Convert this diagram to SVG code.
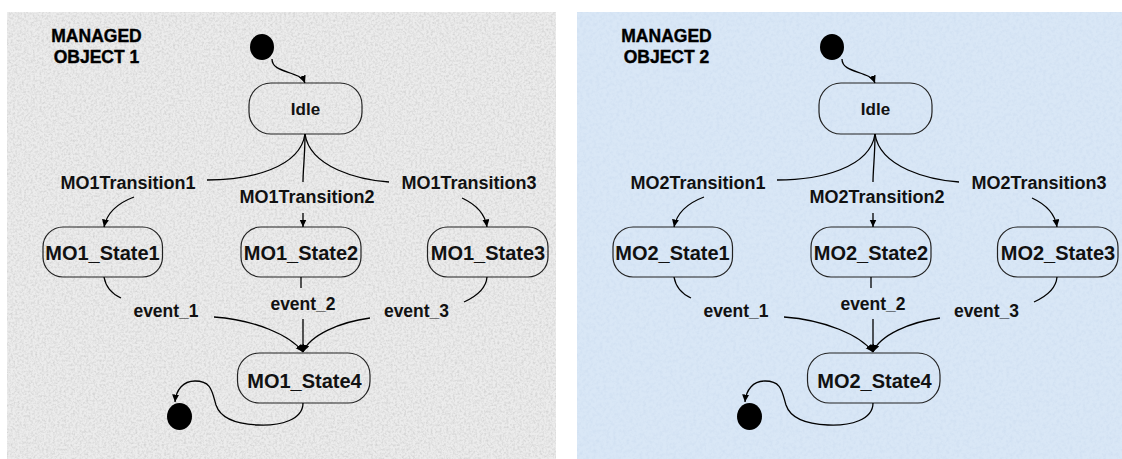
<svg xmlns="http://www.w3.org/2000/svg" width="1122" height="459" viewBox="0 0 1122 459">
<style>
.box{fill:none;stroke:#222;stroke-width:1.2}
.dot{fill:#000}
.ttl{font-family:"Liberation Sans",Arial,sans-serif;font-weight:bold;font-size:17.5px;fill:#000;text-anchor:middle;stroke:#000;stroke-width:0.4}
.st{font-family:"Liberation Sans",Arial,sans-serif;font-weight:bold;font-size:20px;fill:#111;text-anchor:middle}
.idle{font-family:"Liberation Sans",Arial,sans-serif;font-weight:bold;font-size:17px;fill:#111;text-anchor:middle}
.lbl{font-family:"Liberation Sans",Arial,sans-serif;font-weight:bold;font-size:18px;fill:#111;text-anchor:middle}
.ev{font-family:"Liberation Sans",Arial,sans-serif;font-weight:bold;font-size:17.5px;fill:#111;text-anchor:middle}
.c{fill:none;stroke:#000;stroke-width:1.3}
.a{marker-end:url(#ah)}
</style>
<defs>
<marker id="ah" markerUnits="userSpaceOnUse" markerWidth="8" markerHeight="8" refX="7.5" refY="3.5" orient="auto">
<path d="M0,0 L7.5,3.5 L0,7 z" fill="#000"/>
</marker>
<filter id="grainGray" x="0" y="0" width="100%" height="100%">
<feTurbulence type="fractalNoise" baseFrequency="0.45" numOctaves="3" seed="4" result="n"/>
<feColorMatrix in="n" type="matrix" values="0 0 0 0 0.45  0 0 0 0 0.45  0 0 0 0 0.45  1.6 0 0 0 -0.62"/>
</filter>
<filter id="grainBlue" x="0" y="0" width="100%" height="100%">
<feTurbulence type="fractalNoise" baseFrequency="0.3" numOctaves="3" seed="9" result="n"/>
<feColorMatrix in="n" type="matrix" values="0 0 0 0 0.5  0 0 0 0 0.62  0 0 0 0 0.8  1.5 0 0 0 -0.6"/>
</filter>
</defs>
<rect x="0" y="0" width="1122" height="459" fill="#fff"/>

<!-- Panel 1 -->
<g id="panel1">
<rect x="7" y="12" width="549" height="447" fill="#ececec"/>
<rect x="7" y="12" width="549" height="447" fill="#000" filter="url(#grainGray)" opacity="0.55"/>
<g id="mo1-title">
<text class="ttl" x="96.5" y="42">MANAGED</text>
<text class="ttl" x="96.5" y="63">OBJECT 1</text>
</g>
<g id="mo1-initial"><ellipse class="dot" cx="262" cy="47" rx="12" ry="13"/></g>
<g id="mo1-idle"><rect class="box" x="249" y="83" width="113" height="51" rx="22" ry="22"/><text class="idle" x="305.5" y="115">Idle</text></g>
<g id="mo1-state1"><rect class="box" x="43" y="227" width="119.5" height="50" rx="20" ry="20"/><text class="st" x="102.5" y="260">MO1_State1</text></g>
<g id="mo1-state2"><rect class="box" x="241" y="227" width="120" height="50" rx="20" ry="20"/><text class="st" x="301" y="260">MO1_State2</text></g>
<g id="mo1-state3"><rect class="box" x="427.5" y="227" width="120.5" height="50" rx="20" ry="20"/><text class="st" x="488" y="260">MO1_State3</text></g>
<g id="mo1-state4"><rect class="box" x="237.5" y="353" width="132.5" height="50" rx="22" ry="22"/><text class="st" x="304.5" y="388">MO1_State4</text></g>
<g id="mo1-final"><ellipse class="dot" cx="179.5" cy="416.5" rx="12.5" ry="13.5"/></g>
<g id="mo1-labels">
<text class="lbl" x="128" y="189">MO1Transition1</text>
<text class="lbl" x="307" y="203">MO1Transition2</text>
<text class="lbl" x="469" y="189">MO1Transition3</text>
<text class="ev" x="166" y="317">event_1</text>
<text class="ev" x="303" y="310">event_2</text>
<text class="ev" x="416.5" y="317">event_3</text>
</g>
<g id="mo1-connectors">
<path class="c a" d="M272,59 C272,74 300,70 305,83"/>
<path class="c" d="M305,134 C300,168 250,180 207,180"/>
<path class="c" d="M305,134 C305,155 303,170 303,182"/>
<path class="c" d="M305,134 C310,168 360,180 389,182"/>
<path class="c a" d="M134,197 C118,203 107,212 104,227"/>
<path class="c a" d="M303,213 L303,227"/>
<path class="c a" d="M462,198 C475,204 485,213 487,227"/>
<path class="c" d="M104,277 C106,288 112,294 121,298"/>
<path class="c" d="M301,277 L301,288"/>
<path class="c" d="M487,277 C486,290 475,297 464,302"/>
<path class="c a" d="M214,317 C255,320 290,335 303,352"/>
<path class="c a" d="M303,319 L303,352"/>
<path class="c a" d="M370,318 C340,322 310,335 303,352"/>
<path class="c a" d="M303,403 C303,420 280,426 258,425 C235,424 220,417 216,405 C212,392 212,381 195,381 C183,381 176,390 175,402"/>
</g>
</g>

<!-- Panel 2 -->
<g id="panel2" transform="translate(570,0)">
<rect x="7" y="12" width="549" height="447" fill="#d9e7f6"/>
<rect x="7" y="12" width="549" height="447" fill="#000" filter="url(#grainBlue)" opacity="0.4"/>
<g id="mo2-title">
<text class="ttl" x="96.5" y="42">MANAGED</text>
<text class="ttl" x="96.5" y="63">OBJECT 2</text>
</g>
<g id="mo2-initial"><ellipse class="dot" cx="262" cy="47" rx="12" ry="13"/></g>
<g id="mo2-idle"><rect class="box" x="249" y="83" width="113" height="51" rx="22" ry="22"/><text class="idle" x="305.5" y="115">Idle</text></g>
<g id="mo2-state1"><rect class="box" x="43" y="227" width="119.5" height="50" rx="20" ry="20"/><text class="st" x="102.5" y="260">MO2_State1</text></g>
<g id="mo2-state2"><rect class="box" x="241" y="227" width="120" height="50" rx="20" ry="20"/><text class="st" x="301" y="260">MO2_State2</text></g>
<g id="mo2-state3"><rect class="box" x="427.5" y="227" width="120.5" height="50" rx="20" ry="20"/><text class="st" x="488" y="260">MO2_State3</text></g>
<g id="mo2-state4"><rect class="box" x="237.5" y="353" width="132.5" height="50" rx="22" ry="22"/><text class="st" x="304.5" y="388">MO2_State4</text></g>
<g id="mo2-final"><ellipse class="dot" cx="179.5" cy="416.5" rx="12.5" ry="13.5"/></g>
<g id="mo2-labels">
<text class="lbl" x="128" y="189">MO2Transition1</text>
<text class="lbl" x="307" y="203">MO2Transition2</text>
<text class="lbl" x="469" y="189">MO2Transition3</text>
<text class="ev" x="166" y="317">event_1</text>
<text class="ev" x="303" y="310">event_2</text>
<text class="ev" x="416.5" y="317">event_3</text>
</g>
<g id="mo2-connectors">
<path class="c a" d="M272,59 C272,74 300,70 305,83"/>
<path class="c" d="M305,134 C300,168 250,180 207,180"/>
<path class="c" d="M305,134 C305,155 303,170 303,182"/>
<path class="c" d="M305,134 C310,168 360,180 389,182"/>
<path class="c a" d="M134,197 C118,203 107,212 104,227"/>
<path class="c a" d="M303,213 L303,227"/>
<path class="c a" d="M462,198 C475,204 485,213 487,227"/>
<path class="c" d="M104,277 C106,288 112,294 121,298"/>
<path class="c" d="M301,277 L301,288"/>
<path class="c" d="M487,277 C486,290 475,297 464,302"/>
<path class="c a" d="M214,317 C255,320 290,335 303,352"/>
<path class="c a" d="M303,319 L303,352"/>
<path class="c a" d="M370,318 C340,322 310,335 303,352"/>
<path class="c a" d="M303,403 C303,420 280,426 258,425 C235,424 220,417 216,405 C212,392 212,381 195,381 C183,381 176,390 175,402"/>
</g>
</g>
</svg>
